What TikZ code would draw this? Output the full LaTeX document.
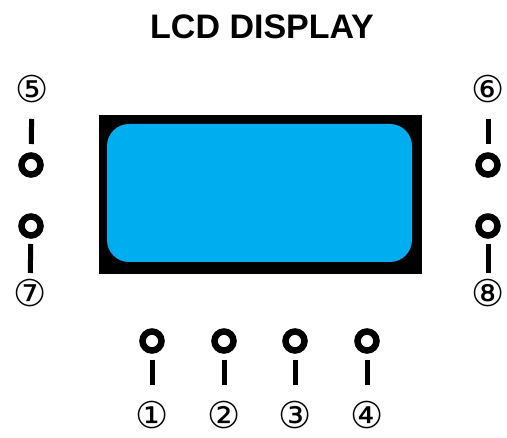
\documentclass[tikz,border=0pt]{standalone}
\usepackage{fontspec}
\setmainfont{Liberation Sans}
\newfontfamily\numfont{DejaVu Sans}
\usetikzlibrary{positioning}
\definecolor{screen}{RGB}{0,174,239}

\begin{document}
\begin{tikzpicture}[x=1pt, y=-1pt,
		title/.style={font=\fontsize{34}{40}\selectfont\bfseries},
		frame/.style={fill=black, minimum width=323pt, minimum height=159pt, inner sep=0pt},
		lcd/.style={fill=screen, rounded corners=22pt, minimum width=305pt, minimum height=138pt, inner sep=0pt},
		pinhole/.style={circle, draw, line width=6.5pt, minimum size=19pt, inner sep=0pt, outer sep=0pt},
		pinlabel/.style={inner sep=0pt, outer sep=0pt,
			font=\numfont\fontsize{37}{37}\selectfont},
		lead/.style={line width=5pt}
		]
		\useasboundingbox (0,0) rectangle (507,438);
		
		% Title
		\node[title] (ttl) at (262,27) {LCD DISPLAY};
		
		% Display
		\node[frame] (frm) at (260.5,194.5) {};
		\node[lcd]   (scr) at (259.5,193) {};
		
		% Side pins
		\node[pinhole]  (p5) at (31,165) {};
		\node[pinhole]  (p7) at (31,226) {};
		\node[pinhole]  (p6) at (488,165) {};
		\node[pinhole]  (p8) at (488,226) {};
		\node[pinlabel] (l5) at (32,89) {⑤};
		\node[pinlabel] (l7) at (30,293) {⑦};
		\node[pinlabel] (l6) at (488,89) {⑥};
		\node[pinlabel] (l8) at (488,293) {⑧};
		
		% Bottom pins
		\node[pinhole]  (p1) at (152,341) {};
		\node[pinhole]  (p2) at (224,341) {};
		\node[pinhole]  (p3) at (295,341) {};
		\node[pinhole]  (p4) at (367,341) {};
		\node[pinlabel] (l1) at (152,415) {①};
		\node[pinlabel] (l2) at (224,415) {②};
		\node[pinlabel] (l3) at (295,415) {③};
		\node[pinlabel] (l4) at (367,415) {④};
		
		% Leads
		\draw[lead, shorten <=11.5pt, shorten >=30pt] (p5) -- (l5.center);
		\draw[lead, shorten <=11.5pt, shorten >=30pt] (p6) -- (l6.center);
		\draw[lead, shorten <=8.5pt, shorten >=20pt] (p7) -- (l7.center);
		\draw[lead, shorten <=8.5pt, shorten >=20pt] (p8) -- (l8.center);
		\draw[lead, shorten <=9.5pt, shorten >=30pt] (p1) -- (l1.center);
		\draw[lead, shorten <=9.5pt, shorten >=30pt] (p2) -- (l2.center);
		\draw[lead, shorten <=9.5pt, shorten >=30pt] (p3) -- (l3.center);
		\draw[lead, shorten <=9.5pt, shorten >=30pt] (p4) -- (l4.center);
		
	\end{tikzpicture}
\end{document}
